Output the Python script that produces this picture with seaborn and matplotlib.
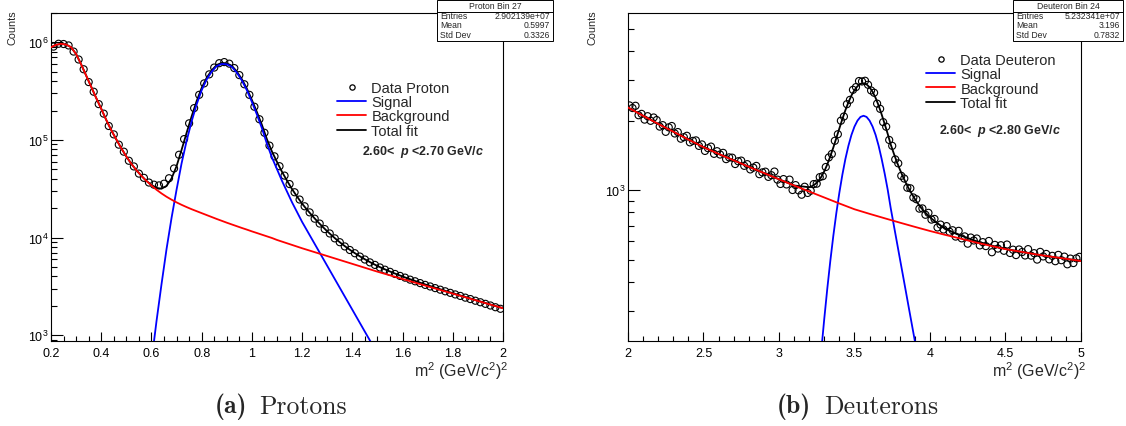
import matplotlib
matplotlib.use("Agg")
import matplotlib.pyplot as plt
import seaborn as sns
from matplotlib.ticker import MultipleLocator, LogLocator, NullFormatter
from matplotlib.lines import Line2D
from matplotlib.patches import Rectangle

# ---------------- Proton panel data ----------------
proton_m2 = [0.21, 0.23, 0.25, 0.27, 0.29, 0.31, 0.33, 0.35, 0.37, 0.39,
             0.41, 0.43, 0.45, 0.47, 0.49, 0.51, 0.53, 0.55, 0.57, 0.59,
             0.61, 0.63, 0.65, 0.67, 0.69, 0.71, 0.73, 0.75, 0.77, 0.79,
             0.81, 0.83, 0.85, 0.87, 0.89, 0.91, 0.93, 0.95, 0.97, 0.99,
             1.01, 1.03, 1.05, 1.07, 1.09, 1.11, 1.13, 1.15, 1.17, 1.19,
             1.21, 1.23, 1.25, 1.27, 1.29, 1.31, 1.33, 1.35, 1.37, 1.39,
             1.41, 1.43, 1.45, 1.47, 1.49, 1.51, 1.53, 1.55, 1.57, 1.59,
             1.61, 1.63, 1.65, 1.67, 1.69, 1.71, 1.73, 1.75, 1.77, 1.79,
             1.81, 1.83, 1.85, 1.87, 1.89, 1.91, 1.93, 1.95, 1.97, 1.99]
proton_counts = [905000, 968000, 962000, 930000, 805000, 668000, 530000, 392000, 312000, 233000,
                 186000, 139000, 114000, 89500, 75800, 61200, 53500, 45200, 40900, 36600,
                 34800, 34200, 35600, 40500, 51000, 70500, 102000, 148000, 212000, 290000,
                 380000, 470000, 552000, 612000, 628000, 605000, 545000, 462000, 372000, 290000,
                 219000, 163000, 118500, 87500, 67900, 53800, 43100, 35300, 29100, 24500,
                 20900, 18100, 15600, 13900, 12200, 11000, 9800, 8950, 8100, 7450,
                 6900, 6380, 5950, 5560, 5240, 4930, 4680, 4450, 4230, 4040,
                 3880, 3700, 3560, 3410, 3270, 3150, 3030, 2920, 2810, 2710,
                 2610, 2520, 2420, 2340, 2250, 2170, 2090, 2010, 1930, 1860]

proton_fit_m2 = [0.20, 0.22, 0.24, 0.26, 0.28, 0.30, 0.32, 0.34, 0.36, 0.38,
                 0.40, 0.42, 0.44, 0.46, 0.48, 0.50, 0.52, 0.54, 0.56, 0.58,
                 0.60, 0.62, 0.64, 0.66, 0.68, 0.70, 0.72, 0.74, 0.76, 0.78,
                 0.80, 0.82, 0.84, 0.86, 0.88, 0.90, 0.92, 0.94, 0.96, 0.98,
                 1.00, 1.02, 1.04, 1.06, 1.08, 1.10, 1.12, 1.14, 1.16, 1.18,
                 1.20, 1.22, 1.24, 1.26, 1.28, 1.30, 1.32, 1.34, 1.36, 1.38,
                 1.40, 1.42, 1.44, 1.46, 1.48, 1.50, 1.52, 1.54, 1.56, 1.58,
                 1.60, 1.62, 1.64, 1.66, 1.68, 1.70, 1.72, 1.74, 1.76, 1.78,
                 1.80, 1.82, 1.84, 1.86, 1.88, 1.90, 1.92, 1.94, 1.96, 1.98, 2.00]
proton_total = [891000, 944100, 966100, 950600, 891300, 758600, 595700, 457100, 350800, 269200,
                208900, 160300, 125900, 101200, 82220, 67610, 56890, 48980, 42850, 38020,
                34650, 32280, 31620, 33770, 40280, 53810, 79170, 118200, 174400, 250300,
                341400, 433900, 517400, 587000, 616000, 609900, 575900, 502900, 419900, 335700,
                257100, 193100, 142500, 101500, 75960, 59560, 47100, 38240, 31310, 26270,
                22210, 19230, 16760, 14710, 13010, 11590, 10390, 9386, 8535, 7811,
                7190, 6655, 6191, 5785, 5428, 5113, 4840, 4596, 4374, 4172,
                3987, 3817, 3659, 3511, 3373, 3243, 3121, 3005, 2895, 2789,
                2690, 2593, 2502, 2414, 2329, 2249, 2171, 2096, 2023, 1954, 1887]
proton_bkg = [891000, 944100, 966100, 950600, 891300, 758600, 595700, 457100, 350800, 269200,
              208900, 160300, 125900, 101200, 82220, 67610, 56890, 48980, 42850, 38020,
              34120, 30900, 28310, 26180, 24430, 22910, 21630, 20510, 19500, 18620,
              17780, 16980, 16220, 15490, 14830, 14190, 13610, 13060, 12530, 12050,
              11560, 11120, 10690, 10280, 9886, 9441, 9078, 8730, 8395, 8072,
              7762, 7482, 7211, 6950, 6699, 6457, 6223, 5998, 5781, 5572,
              5370, 5176, 4989, 4808, 4634, 4467, 4315, 4169, 4027, 3890,
              3758, 3631, 3508, 3388, 3273, 3162, 3055, 2951, 2851, 2754,
              2661, 2570, 2483, 2399, 2317, 2239, 2163, 2089, 2018, 1950, 1884]
proton_sig_m2 = [0.60, 0.62, 0.64, 0.66, 0.68, 0.70, 0.72, 0.74, 0.76, 0.78,
                 0.80, 0.82, 0.84, 0.86, 0.88, 0.90, 0.92, 0.94, 0.96, 0.98,
                 1.00, 1.02, 1.04, 1.06, 1.08, 1.10, 1.12, 1.14, 1.16, 1.18,
                 1.20, 1.22, 1.24, 1.26, 1.28, 1.30, 1.32, 1.34, 1.36, 1.38,
                 1.40, 1.42, 1.44, 1.46, 1.48, 1.50]
proton_signal = [533, 1380, 3311, 7586, 15850, 30900, 57540, 97720, 154900, 231700,
                 323600, 416900, 501200, 571500, 601200, 595700, 562300, 489800, 407400, 323600,
                 245500, 182000, 131800, 91200, 66070, 50120, 38020, 29510, 22910, 18200,
                 14450, 11750, 9550, 7762, 6310, 5129, 4169, 3388, 2754, 2239,
                 1820, 1479, 1202, 977, 794, 646]
proton_ticks = [0.2, 0.4, 0.6, 0.8, 1.0, 1.2, 1.4, 1.6, 1.8, 2.0]
proton_ticklabels = ["0.2", "0.4", "0.6", "0.8", "1", "1.2", "1.4", "1.6", "1.8", "2"]

# ---------------- Deuteron panel data ----------------
deut_m2 = [2.01, 2.03, 2.05, 2.07, 2.09, 2.11, 2.13, 2.15, 2.17, 2.19,
           2.21, 2.23, 2.25, 2.27, 2.29, 2.31, 2.33, 2.35, 2.37, 2.39,
           2.41, 2.43, 2.45, 2.47, 2.49, 2.51, 2.53, 2.55, 2.57, 2.59,
           2.61, 2.63, 2.65, 2.67, 2.69, 2.71, 2.73, 2.75, 2.77, 2.79,
           2.81, 2.83, 2.85, 2.87, 2.89, 2.91, 2.93, 2.95, 2.97, 2.99,
           3.01, 3.03, 3.05, 3.07, 3.09, 3.11, 3.13, 3.15, 3.17, 3.19,
           3.21, 3.23, 3.25, 3.27, 3.29, 3.31, 3.33, 3.35, 3.37, 3.39,
           3.41, 3.43, 3.45, 3.47, 3.49, 3.51, 3.53, 3.55, 3.57, 3.59,
           3.61, 3.63, 3.65, 3.67, 3.69, 3.71, 3.73, 3.75, 3.77, 3.79,
           3.81, 3.83, 3.85, 3.87, 3.89, 3.91, 3.93, 3.95, 3.97, 3.99,
           4.01, 4.03, 4.05, 4.07, 4.09, 4.11, 4.13, 4.15, 4.17, 4.19,
           4.21, 4.23, 4.25, 4.27, 4.29, 4.31, 4.33, 4.35, 4.37, 4.39,
           4.41, 4.43, 4.45, 4.47, 4.49, 4.51, 4.53, 4.55, 4.57, 4.59,
           4.61, 4.63, 4.65, 4.67, 4.69, 4.71, 4.73, 4.75, 4.77, 4.79,
           4.81, 4.83, 4.85, 4.87, 4.89, 4.91, 4.93, 4.95, 4.97, 4.99]
deut_counts = [2327, 2267, 2319, 2110, 2139, 2020, 2090, 1996, 2063, 2011,
               1884, 1911, 1788, 1870, 1895, 1759, 1784, 1670, 1695, 1719,
               1610, 1634, 1642, 1554, 1577, 1478, 1519, 1543, 1436, 1474,
               1426, 1450, 1362, 1386, 1382, 1297, 1333, 1342, 1274, 1295,
               1229, 1251, 1273, 1172, 1193, 1202, 1141, 1160, 1203, 1110,
               1063, 1116, 1058, 1110, 1001, 1051, 997, 955, 1034, 972,
               994, 1062, 1066, 1138, 1149, 1259, 1385, 1434, 1635, 1746,
               1998, 2083, 2356, 2460, 2719, 2794, 2968, 2955, 2976, 2860,
               2702, 2641, 2369, 2249, 1970, 1882, 1649, 1555, 1358, 1306,
               1153, 1122, 1024, 1018, 929, 913, 831, 833, 782, 797,
               745, 750, 689, 709, 675, 698, 660, 670, 629, 666,
               618, 630, 586, 623, 605, 617, 576, 595, 572, 602,
               538, 579, 558, 577, 546, 581, 534, 552, 523, 553,
               539, 521, 555, 520, 533, 500, 540, 516, 529, 501,
               519, 492, 524, 497, 515, 477, 505, 483, 506, 514]

deut_tot_m2 = [2.0, 2.1, 2.2, 2.3, 2.4, 2.5, 2.6, 2.7, 2.8, 2.9, 3.0, 3.1,
               3.20, 3.22, 3.24, 3.26, 3.28, 3.30, 3.32, 3.34, 3.36, 3.38,
               3.40, 3.42, 3.44, 3.46, 3.48, 3.50, 3.52, 3.54, 3.56, 3.58,
               3.60, 3.62, 3.64, 3.66, 3.68, 3.70, 3.72, 3.74, 3.76, 3.78,
               3.80, 3.82, 3.84, 3.86, 3.88, 3.90, 3.92, 3.94, 3.96, 3.98,
               4.00, 4.02, 4.04, 4.06, 4.08, 4.10, 4.12, 4.14, 4.16, 4.18, 4.20,
               4.3, 4.4, 4.5, 4.6, 4.7, 4.8, 4.9, 5.0]
deut_total = [2280, 2099, 1936, 1791, 1656, 1535, 1435, 1346, 1262, 1186, 1114, 1047,
              1029, 1041, 1062, 1093, 1141, 1206, 1292, 1401, 1529, 1681,
              1850, 2032, 2220, 2401, 2570, 2710, 2818, 2886, 2903, 2871,
              2789, 2666, 2508, 2325, 2127, 1935, 1753, 1577, 1444, 1329,
              1231, 1147, 1076, 1014, 962, 915, 875, 840, 811, 786,
              763, 744, 726, 710, 695, 684, 672, 663, 652, 644, 637,
              603, 577, 556, 541, 527, 515, 504, 493]
deut_bkg_m2 = [2.0, 2.1, 2.2, 2.3, 2.4, 2.5, 2.6, 2.7, 2.8, 2.9,
               3.0, 3.1, 3.2, 3.3, 3.4, 3.5, 3.6, 3.7, 3.8, 3.9,
               4.0, 4.1, 4.2, 4.3, 4.4, 4.5, 4.6, 4.7, 4.8, 4.9, 5.0]
deut_bkg = [2280, 2099, 1936, 1791, 1656, 1535, 1435, 1346, 1262, 1186,
            1114, 1047, 986, 929, 875, 826, 789, 755, 723, 693,
            665, 640, 617, 594, 574, 555, 541, 527, 515, 504, 493]
deut_sig_m2 = [3.24, 3.26, 3.28, 3.30, 3.32, 3.34, 3.36, 3.38, 3.40, 3.42,
               3.44, 3.46, 3.48, 3.50, 3.52, 3.54, 3.56, 3.58, 3.60, 3.62,
               3.64, 3.66, 3.68, 3.70, 3.72, 3.74, 3.76, 3.78, 3.80, 3.82,
               3.84, 3.86, 3.88, 3.90, 3.92, 3.94]
deut_signal = [98, 142, 201, 277, 374, 493, 634, 796, 975, 1167,
               1365, 1556, 1734, 1884, 2000, 2075, 2099, 2075, 2000, 1884,
               1734, 1556, 1365, 1180, 1005, 836, 708, 600, 508, 431,
               365, 309, 262, 222, 188, 158]
deut_ticks = [2.0, 2.5, 3.0, 3.5, 4.0, 4.5, 5.0]
deut_ticklabels = ["2", "2.5", "3", "3.5", "4", "4.5", "5"]

legend_labels_p = ["Data Proton", "Signal", "Background", "Total fit"]
legend_labels_d = ["Data Deuteron", "Signal", "Background", "Total fit"]
mom_text_p = r"2.60<  $p$ <2.70 GeV/$c$"
mom_text_d = r"2.60<  $p$ <2.80 GeV/$c$"
stats_p = ("Proton Bin 27", [("Entries", "2.902139e+07"), ("Mean", "0.5997"), ("Std Dev", "0.3326")])
stats_d = ("Deuteron Bin 24", [("Entries", "5.232341e+07"), ("Mean", "3.196"), ("Std Dev", "0.7832")])

# ---------------- style ----------------
sns.set_style("ticks")
plt.rcParams.update({
    "font.family": ["Liberation Sans", "DejaVu Sans"],
    "mathtext.fontset": "custom",
    "mathtext.rm": "Liberation Sans",
    "mathtext.it": "Liberation Sans:italic:bold",
    "mathtext.bf": "Liberation Sans:bold",
    "axes.edgecolor": "black",
    "axes.linewidth": 0.8,
    "xtick.color": "black",
    "ytick.color": "black",
})

fig = plt.figure(figsize=(11.26, 4.27), dpi=100)
axL = fig.add_axes([0.0453, 0.1991, 0.4014, 0.7681])
axR = fig.add_axes([0.5577, 0.1991, 0.4023, 0.7681])


def draw_panel(ax, dx, dy, tx, ty, sx, sy, bx, by):
    sns.scatterplot(x=dx, y=dy, ax=ax, marker="o", s=26, facecolors="none",
                    edgecolor="black", linewidth=0.8, zorder=2)
    sns.lineplot(x=tx, y=ty, ax=ax, color="black", lw=1.3, estimator=None, sort=False, zorder=3)
    sns.lineplot(x=sx, y=sy, ax=ax, color="#0000ff", lw=1.3, estimator=None, sort=False, zorder=4)
    sns.lineplot(x=bx, y=by, ax=ax, color="#ff0000", lw=1.3, estimator=None, sort=False, zorder=5)
    ax.set_yscale("log")
    ax.set_xlabel("")
    ax.set_ylabel("")
    for s in ["top", "right", "left", "bottom"]:
        ax.spines[s].set_visible(True)
        ax.spines[s].set_color("black")
        ax.spines[s].set_linewidth(0.8)
    ax.tick_params(which="both", direction="in", top=False, right=False,
                   labelsize=9, width=0.8, colors="black")
    ax.xaxis.set_tick_params(which="major", length=6.5, pad=4)
    ax.xaxis.set_tick_params(which="minor", length=3.3)
    ax.yaxis.set_tick_params(which="major", length=8.5, pad=2)
    ax.yaxis.set_tick_params(which="minor", length=4.3)
    ax.yaxis.set_major_locator(LogLocator(base=10, numticks=10))
    ax.yaxis.set_minor_locator(LogLocator(base=10, subs=range(2, 10), numticks=20))
    ax.yaxis.set_minor_formatter(NullFormatter())
    ax.grid(False)


draw_panel(axL, proton_m2, proton_counts, proton_fit_m2, proton_total,
           proton_sig_m2, proton_signal, proton_fit_m2, proton_bkg)
axL.set_xticks(proton_ticks)
axL.set_xticklabels(proton_ticklabels)
axL.xaxis.set_minor_locator(MultipleLocator(0.05))
axL.set_xlim(0.2, 2.0)
axL.set_ylim(870, 2.0e6)

draw_panel(axR, deut_m2, deut_counts, deut_tot_m2, deut_total,
           deut_sig_m2, deut_signal, deut_bkg_m2, deut_bkg)
axR.set_xticks(deut_ticks)
axR.set_xticklabels(deut_ticklabels)
axR.xaxis.set_minor_locator(MultipleLocator(0.1))
axR.set_xlim(2.0, 5.0)
axR.set_ylim(222, 5850)

# axis titles
for ax in (axL, axR):
    ax.text(1.013, -0.09, r"m$^2$ (GeV/c$^2$)$^2$", transform=ax.transAxes,
            ha="right", va="center", fontsize=11.5)
fig.text(12 / 1126, 1 - 10 / 427, "Counts", rotation=90, ha="center", va="top", fontsize=7.8)
fig.text(593 / 1126, 1 - 10 / 427, "Counts", rotation=90, ha="center", va="top", fontsize=7.8)


def make_legend(ax, labels, anchor):
    handles = [
        Line2D([], [], marker="o", ls="none", mfc="none", mec="black", ms=3.8, mew=0.9),
        Line2D([], [], color="#0000ff", lw=1.3),
        Line2D([], [], color="#ff0000", lw=1.3),
        Line2D([], [], color="black", lw=1.3),
    ]
    ax.legend(handles, labels, loc="upper left", bbox_to_anchor=anchor, frameon=False,
              fontsize=10.5, handlelength=2.0, handletextpad=0.35, labelspacing=0.02,
              borderpad=0, borderaxespad=0)


make_legend(axL, legend_labels_p, (0.633, 0.793))
make_legend(axR, legend_labels_d, (0.658, 0.878))
axL.text(0.688, 0.579, mom_text_p, transform=axL.transAxes, fontsize=9,
         fontweight="bold", va="center", ha="left")
axR.text(0.687, 0.643, mom_text_d, transform=axR.transAxes, fontsize=9,
         fontweight="bold", va="center", ha="left")


def stats_box(x0_px, x1_px, stats):
    title, rows = stats
    W, H = 1126.0, 427.0
    top, bot, sep = 0.5, 42, 12.5
    fig.add_artist(Rectangle((x0_px / W, 1 - bot / H), (x1_px - x0_px) / W, (bot - top) / H,
                             transform=fig.transFigure, facecolor="white", edgecolor="black",
                             lw=0.7, zorder=10))
    fig.add_artist(Line2D([x0_px / W, x1_px / W], [1 - sep / H, 1 - sep / H],
                          transform=fig.transFigure, color="black", lw=0.7, zorder=11))
    fig.text((x0_px + x1_px) / 2 / W, 1 - 6.5 / H, title, ha="center", va="center",
             fontsize=6.2, zorder=12)
    for i, (k, v) in enumerate(rows):
        yy = 1 - (16.8 + 9.2 * i) / H
        fig.text((x0_px + 3) / W, yy, k, ha="left", va="center", fontsize=6.2, zorder=12)
        fig.text((x1_px - 3) / W, yy, v, ha="right", va="center", fontsize=6.2, zorder=12)


stats_box(437, 553, stats_p)
stats_box(1013, 1123, stats_d)

# captions
fig.text(247 / 1126, 1 - 407 / 427, "(a)", family="cmb10", fontsize=18.5, ha="right", va="center")
fig.text(259 / 1126, 1 - 407 / 427, "Protons", family="cmr10", fontsize=18.5, ha="left", va="center")
fig.text(811 / 1126, 1 - 407 / 427, "(b)", family="cmb10", fontsize=18.5, ha="right", va="center")
fig.text(824 / 1126, 1 - 407 / 427, "Deuterons", family="cmr10", fontsize=18.5, ha="left", va="center")

fig.savefig("out.png", dpi=100)
